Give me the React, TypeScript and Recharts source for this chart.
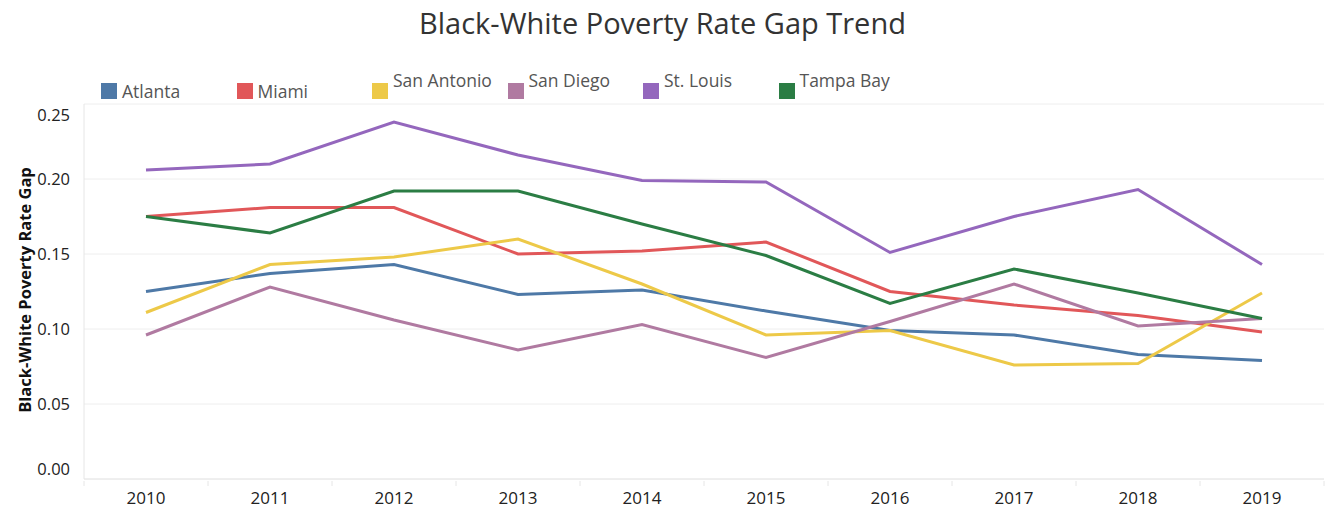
import React from 'react';
import { LineChart, Line, XAxis, YAxis, CartesianGrid } from 'recharts';

const years = ['2010', '2011', '2012', '2013', '2014', '2015', '2016', '2017', '2018', '2019'];
const cities = ['Atlanta', 'Miami', 'San Antonio', 'San Diego', 'St. Louis', 'Tampa Bay'];
const colors = ['#4e79a7', '#e15759', '#edc948', '#b07aa1', '#9467bd', '#2b7d44'];

const atlanta = [0.125, 0.137, 0.143, 0.123, 0.126, 0.112, 0.099, 0.096, 0.083, 0.079];
const miami = [0.175, 0.181, 0.181, 0.150, 0.152, 0.158, 0.125, 0.116, 0.109, 0.098];
const sanAntonio = [0.111, 0.143, 0.148, 0.160, 0.130, 0.096, 0.099, 0.076, 0.077, 0.124];
const sanDiego = [0.096, 0.128, 0.106, 0.086, 0.103, 0.081, 0.105, 0.130, 0.102, 0.107];
const stLouis = [0.206, 0.210, 0.238, 0.216, 0.199, 0.198, 0.151, 0.175, 0.193, 0.143];
const tampaBay = [0.175, 0.164, 0.192, 0.192, 0.170, 0.149, 0.117, 0.140, 0.124, 0.107];

const yTicks = [0, 0.05, 0.1, 0.15, 0.2, 0.25];

const seriesValues = [atlanta, miami, sanAntonio, sanDiego, stLouis, tampaBay];

const data = years.map((year, i) => {
  const row: any = { year };
  cities.forEach((c, j) => {
    row[c] = seriesValues[j][i];
  });
  return row;
});

const FONT = '"Open Sans", "Noto Sans", sans-serif';
const HALF_BAND = 62;

function XTick(props: any) {
  const { x, y, payload, index } = props;
  return (
    <g>
      <line x1={x - HALF_BAND} x2={x - HALF_BAND} y1={y - 6} y2={y - 1} stroke="#e6e6e6" />
      {index === years.length - 1 && (
        <line x1={x + HALF_BAND} x2={x + HALF_BAND} y1={y - 6} y2={y - 1} stroke="#e6e6e6" />
      )}
      <text x={x} y={y + 17} textAnchor="middle" fontSize={17} fill="#222" fontFamily={FONT}>
        {payload.value}
      </text>
    </g>
  );
}

function YTick(props: any) {
  const { x, y, payload } = props;
  let dy = 6;
  if (payload.value === 0.25) dy = 17;
  if (payload.value === 0) dy = -4;
  return (
    <text x={x - 6} y={y + dy} textAnchor="end" fontSize={16.5} fill="#222" fontFamily={FONT}>
      {payload.value.toFixed(2)}
    </text>
  );
}

export default function App() {
  return (
    <div style={{ position: 'absolute', left: 0, top: 0, width: 1325, height: 508, background: '#fff', fontFamily: FONT }}>
      <div style={{ position: 'absolute', left: 0, top: 3, width: 1325, textAlign: 'center', fontSize: 29, color: '#333' }}>
        Black-White Poverty Rate Gap Trend
      </div>
      {cities.map((c, i) => {
        const left = 101 + i * 135.5;
        const low = i < 2;
        return (
          <div key={c} style={{ position: 'absolute', left, top: 0 }}>
            <span style={{ position: 'absolute', left: 0, top: 83, width: 16, height: 16, background: colors[i] }} />
            <span style={{ position: 'absolute', left: 21, top: low ? 79 : 68, fontSize: 17.5, color: '#555', whiteSpace: 'nowrap' }}>
              {c}
            </span>
          </div>
        );
      })}
      <div
        style={{
          position: 'absolute',
          left: 24,
          top: 290,
          transform: 'translate(-50%, -50%) rotate(-90deg)',
          fontSize: 16.5,
          fontWeight: 700,
          color: '#111',
          whiteSpace: 'nowrap',
        }}
      >
        Black-White Poverty Rate Gap
      </div>
      <div style={{ position: 'absolute', left: 0, top: 0 }}>
        <LineChart width={1325} height={508} data={data} margin={{ top: 104, right: 1, left: 0, bottom: 0 }}>
          <CartesianGrid vertical={false} stroke="#eeeeee" />
          <XAxis
            dataKey="year"
            height={29}
            padding={{ left: HALF_BAND, right: HALF_BAND }}
            tickLine={false}
            axisLine={{ stroke: '#e6e6e6' }}
            tick={<XTick />}
            interval={0}
          />
          <YAxis
            width={84}
            domain={[0, 0.25]}
            ticks={yTicks}
            tickLine={false}
            axisLine={{ stroke: '#e6e6e6' }}
            tick={<YTick />}
          />
          {cities.map((c, i) => (
            <Line
              key={c}
              dataKey={c}
              type="linear"
              stroke={colors[i]}
              strokeWidth={3}
              dot={false}
              isAnimationActive={false}
            />
          ))}
        </LineChart>
      </div>
    </div>
  );
}
